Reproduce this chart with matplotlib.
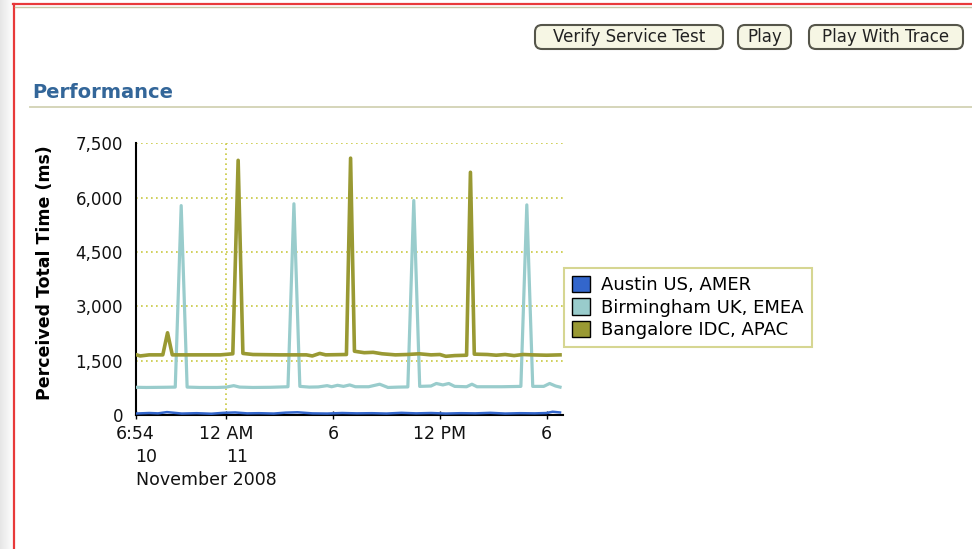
import matplotlib
matplotlib.use("Agg")
import matplotlib.pyplot as plt
from matplotlib.patches import Patch, FancyBboxPatch
import numpy as np
import pandas as pd

W, H = 972, 549

# series values (day of November 2008 + time)
austin_times = ["10 18:54", "10 19:40", "10 20:10", "10 20:40", "10 21:30", "10 22:20", "10 23:10",
                "10 23:50", "11 00:30", "11 01:10", "11 01:50", "11 02:40", "11 03:20", "11 04:00",
                "11 04:50", "11 05:40", "11 06:30", "11 07:20", "11 08:10", "11 09:00", "11 09:50",
                "11 10:40", "11 11:30", "11 12:20", "11 13:10", "11 14:00", "11 14:50", "11 15:40",
                "11 16:30", "11 17:20", "11 18:00", "11 18:20", "11 18:45"]
austin_ms = [40, 55, 45, 80, 40, 50, 35, 60, 70, 45, 50, 40, 65, 75, 45, 40, 55, 45, 50, 40,
             60, 45, 55, 40, 50, 45, 60, 40, 50, 45, 55, 90, 70]

birm_times = ["10 18:54", "10 19:30", "10 20:30", "10 21:08", "10 21:28", "10 21:48", "10 22:30",
              "10 23:30", "11 00:00", "11 00:25", "11 00:45", "11 01:30", "11 02:30", "11 03:28",
              "11 03:48", "11 04:08", "11 04:40", "11 05:10", "11 05:40", "11 05:55", "11 06:15",
              "11 06:35", "11 06:56", "11 07:15", "11 08:00", "11 08:37", "11 09:05", "11 09:40",
              "11 10:12", "11 10:32", "11 10:52", "11 11:30", "11 11:48", "11 12:10", "11 12:30",
              "11 12:50", "11 13:30", "11 13:48", "11 14:05", "11 15:30", "11 16:33", "11 16:53",
              "11 17:13", "11 17:50", "11 18:10", "11 18:30", "11 18:45"]
birm_ms = [765, 760, 765, 770, 5780, 770, 760, 760, 770, 810, 770, 760, 765, 780,
           5830, 790, 770, 775, 810, 780, 820, 790, 830, 780, 780, 850, 760, 770,
           775, 5920, 790, 800, 870, 830, 870, 790, 780, 850, 780, 780, 790, 5800,
           790, 790, 870, 800, 770]

bang_times = ["10 18:54", "10 19:10", "10 19:40", "10 20:26", "10 20:42", "10 20:58", "10 23:40",
              "11 00:22", "11 00:40", "11 00:56", "11 01:30", "11 03:00", "11 04:30", "11 04:50",
              "11 05:15", "11 05:35", "11 06:45", "11 06:59", "11 07:12", "11 07:45", "11 08:15",
              "11 08:45", "11 09:30", "11 10:10", "11 10:50", "11 11:30", "11 12:00", "11 12:20",
              "11 12:50", "11 13:30", "11 13:43", "11 13:56", "11 14:40", "11 15:10", "11 15:40",
              "11 16:10", "11 16:40", "11 17:10", "11 18:00", "11 18:45"]
bang_ms = [1670, 1630, 1660, 1660, 2270, 1660, 1660, 1690, 7030, 1700, 1670, 1660, 1660, 1630,
           1700, 1660, 1670, 7090, 1760, 1720, 1730, 1690, 1660, 1670, 1690, 1660, 1670, 1620,
           1640, 1650, 6700, 1680, 1670, 1650, 1670, 1640, 1670, 1660, 1650, 1660]

series_names = ["Austin US, AMER", "Birmingham UK, EMEA", "Bangalore IDC, APAC"]
series_colors = ["#3366CC", "#99CCCC", "#999933"]

y_ticks = [0, 1500, 3000, 4500, 6000, 7500]
y_labels = ["0", "1,500", "3,000", "4,500", "6,000", "7,500"]
x_tick_times = ["10 18:54", "11 00:00", "11 06:00", "11 12:00", "11 18:00"]
x_tick_labels = ["6:54", "12 AM", "6", "12 PM", "6"]
day_labels = [("10 18:54", "10"), ("11 00:00", "11")]
month_label = "November 2008"
x_start, x_end = "10 18:54", "11 18:54"


def to_dt(lst):
    return pd.to_datetime(["2008-11-" + s for s in lst])


plt.rcParams["font.family"] = ["DejaVu Sans"]
fig = plt.figure(figsize=(W / 100, H / 100), dpi=100)
fig.patch.set_facecolor("white")

# page furniture (pixel coordinates, y down)
bg = fig.add_axes([0, 0, 1, 1], zorder=-5)
bg.set_xlim(0, W)
bg.set_ylim(H, 0)
bg.axis("off")
grad = np.linspace(0.90, 1.0, 50).reshape(1, -1)
bg.imshow(grad, cmap="gray", vmin=0, vmax=1, extent=[0, 13, H, 0], aspect="auto")
bg.plot([13.5, 13.5], [4, H], color="#E8393A", lw=1.6)
bg.plot([13, W], [4, 4], color="#E8393A", lw=1.6)
bg.plot([15, W], [6.5, 6.5], color="#C8C8A8", lw=1)

for x0, x1, txt in [(531, 727, "Verify Service Test"), (734, 795, "Play"), (805, 967, "Play With Trace")]:
    bg.add_patch(FancyBboxPatch((x0 + 4, 25), x1 - x0 - 8, 24,
                                boxstyle="round,pad=0,rounding_size=7",
                                facecolor="#F6F6E4", edgecolor="#55554A", lw=1.5))
    bg.text((x0 + x1) / 2, 37.5, txt, ha="center", va="center", fontsize=12, color="#222222")

bg.text(32, 92, "Performance", fontsize=14, fontweight="bold", color="#336699", va="center")
bg.plot([30, W], [106.5, 106.5], color="#D2D2B4", lw=1.3)

# chart
ax = fig.add_axes([135.5 / W, (H - 415) / H, (562.7 - 135.5) / W, (415 - 143.3) / H])
ax.set_facecolor("none")

ax.plot(to_dt(birm_times), birm_ms, color=series_colors[1], lw=2.3, zorder=3)
ax.plot(to_dt(bang_times), bang_ms, color=series_colors[2], lw=2.6, zorder=4)
ax.plot(to_dt(austin_times), austin_ms, color=series_colors[0], lw=1.8, zorder=5)

ax.set_ylim(0, 7500)
ax.set_xlim(to_dt([x_start])[0], to_dt([x_end])[0])
ax.set_yticks(y_ticks)
ax.set_yticklabels(y_labels)
ax.set_xticks(to_dt(x_tick_times))
ax.set_xticklabels(x_tick_labels)

grid_c = "#C8C840"
ax.yaxis.grid(True, color=grid_c, linestyle=(0, (1, 2)), lw=1.2)
ax.axvline(to_dt(["11 00:00"])[0], color=grid_c, linestyle=(0, (1, 2)), lw=1.2, zorder=1)
ax.set_axisbelow(True)

for s in ["top", "right"]:
    ax.spines[s].set_visible(False)
for s in ["left", "bottom"]:
    ax.spines[s].set_color("black")
    ax.spines[s].set_linewidth(1.5)

ax.tick_params(axis="y", length=0, pad=9, labelsize=12, labelcolor="#111111")
ax.tick_params(axis="x", length=6, direction="inout", width=1, pad=4, labelsize=12.5,
               labelcolor="#111111")

xt = ax.get_xaxis_transform()
for t, lab in day_labels:
    ax.text(to_dt([t])[0], -0.155, lab, transform=xt, ha="left", va="center",
            fontsize=12.5, color="#111111")
ax.text(to_dt([x_start])[0], -0.24, month_label, transform=xt, ha="left", va="center",
        fontsize=12.5, color="#111111")

ax.set_ylabel("Perceived Total Time (ms)", fontsize=12.5, fontweight="bold")
ax.yaxis.set_label_coords(-0.19, 0.524)

handles = [Patch(facecolor=c, edgecolor="black", lw=1) for c in series_colors]
leg = fig.legend(handles, series_names, loc="upper left", bbox_to_anchor=(564 / W, 1 - 268 / H),
                 borderaxespad=0, fontsize=13, frameon=True, fancybox=False,
                 handlelength=1.0, handleheight=1.0, handletextpad=0.6, labelspacing=0.22,
                 borderpad=0.45)
leg.get_frame().set_edgecolor("#CCCC77")
leg.get_frame().set_linewidth(1.5)

fig.savefig("out.png", dpi=100)
